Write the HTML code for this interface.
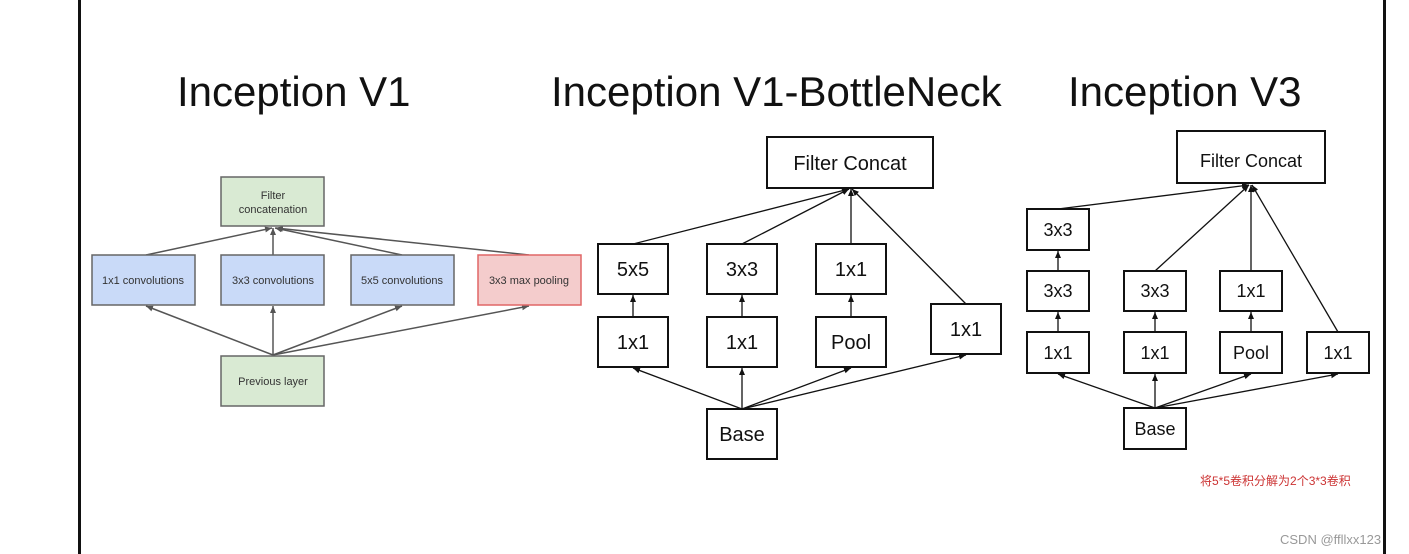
<!DOCTYPE html>
<html><head><meta charset="utf-8"><style>
body{margin:0;width:1409px;height:554px;background:#fff;position:relative;overflow:hidden;font-family:"Liberation Sans",sans-serif}
.t{position:absolute;font-size:42px;color:#111;white-space:nowrap}
svg{position:absolute;left:0;top:0}
</style></head><body>
<div style="position:absolute;left:78px;top:0;width:3px;height:554px;background:#111"></div>
<div style="position:absolute;left:1383px;top:0;width:3px;height:554px;background:#111"></div>
<div class="t" style="left:177px;top:68px">Inception V1</div>
<div class="t" style="left:551px;top:68px">Inception V1-BottleNeck</div>
<div class="t" style="left:1068px;top:68px">Inception V3</div>
<svg width="1409" height="554" font-family="Liberation Sans, sans-serif">
<defs>
<marker id="a" markerWidth="8" markerHeight="8" refX="7" refY="4" orient="auto" markerUnits="userSpaceOnUse"><path d="M0,1 L7,4 L0,7z" fill="#555"/></marker>
<marker id="b" markerWidth="8" markerHeight="8" refX="7" refY="4" orient="auto" markerUnits="userSpaceOnUse"><path d="M0,1 L7,4 L0,7z" fill="#111"/></marker>
</defs>
<g stroke="#555" stroke-width="1.5" fill="none" marker-end="url(#a)">
<line x1="146" y1="255" x2="272" y2="228"/><line x1="273" y1="255" x2="273" y2="228"/>
<line x1="402" y1="255" x2="275" y2="228"/><line x1="529" y1="255" x2="276" y2="228"/>
<line x1="273" y1="355" x2="146" y2="306"/><line x1="273" y1="355" x2="273" y2="306"/>
<line x1="273" y1="355" x2="402" y2="306"/><line x1="273" y1="355" x2="529" y2="306"/>
</g>
<g stroke="#666" stroke-width="1.5">
<rect x="221" y="177" width="103" height="49" fill="#d9ead3"/>
<rect x="92" y="255" width="103" height="50" fill="#c9daf8"/>
<rect x="221" y="255" width="103" height="50" fill="#c9daf8"/>
<rect x="351" y="255" width="103" height="50" fill="#c9daf8"/>
<rect x="478" y="255" width="103" height="50" fill="#f4cccc" stroke="#e06666"/>
<rect x="221" y="356" width="103" height="50" fill="#d9ead3"/>
</g>
<g font-size="11" fill="#333" text-anchor="middle">
<text x="273" y="199">Filter</text><text x="273" y="213">concatenation</text>
<text x="143" y="284">1x1 convolutions</text><text x="273" y="284">3x3 convolutions</text>
<text x="402" y="284">5x5 convolutions</text><text x="529" y="284">3x3 max pooling</text>
<text x="273" y="385">Previous layer</text>
</g>
<g stroke="#111" stroke-width="1.3" fill="none" marker-end="url(#b)">
<line x1="633" y1="244" x2="849" y2="189"/><line x1="742" y1="244" x2="849" y2="189"/>
<line x1="851" y1="244" x2="851" y2="189"/><line x1="966" y1="304" x2="852" y2="189"/>
<line x1="633" y1="317" x2="633" y2="295"/><line x1="742" y1="317" x2="742" y2="295"/><line x1="851" y1="317" x2="851" y2="295"/>
<line x1="742" y1="409" x2="633" y2="368"/><line x1="742" y1="409" x2="742" y2="368"/>
<line x1="742" y1="409" x2="851" y2="368"/><line x1="742" y1="409" x2="966" y2="355"/>
<line x1="1058" y1="209" x2="1249" y2="185"/><line x1="1155" y1="271" x2="1249" y2="185"/>
<line x1="1251" y1="271" x2="1251" y2="185"/><line x1="1338" y1="332" x2="1252" y2="185"/>
<line x1="1058" y1="271" x2="1058" y2="251"/><line x1="1058" y1="332" x2="1058" y2="312"/>
<line x1="1155" y1="332" x2="1155" y2="312"/><line x1="1251" y1="332" x2="1251" y2="312"/>
<line x1="1155" y1="408" x2="1058" y2="374"/><line x1="1155" y1="408" x2="1155" y2="374"/>
<line x1="1155" y1="408" x2="1251" y2="374"/><line x1="1155" y1="408" x2="1338" y2="374"/>
</g>
<g stroke="#111" stroke-width="2" fill="#fff">
<rect x="767" y="137" width="166" height="51"/>
<rect x="598" y="244" width="70" height="50"/><rect x="707" y="244" width="70" height="50"/><rect x="816" y="244" width="70" height="50"/>
<rect x="598" y="317" width="70" height="50"/><rect x="707" y="317" width="70" height="50"/><rect x="816" y="317" width="70" height="50"/>
<rect x="931" y="304" width="70" height="50"/><rect x="707" y="409" width="70" height="50"/>
<rect x="1177" y="131" width="148" height="52"/>
<rect x="1027" y="209" width="62" height="41"/>
<rect x="1027" y="271" width="62" height="40"/><rect x="1124" y="271" width="62" height="40"/><rect x="1220" y="271" width="62" height="40"/>
<rect x="1027" y="332" width="62" height="41"/><rect x="1124" y="332" width="62" height="41"/><rect x="1220" y="332" width="62" height="41"/><rect x="1307" y="332" width="62" height="41"/>
<rect x="1124" y="408" width="62" height="41"/>
</g>
<g font-size="20" fill="#111" text-anchor="middle">
<text x="850" y="170">Filter Concat</text>
<text x="633" y="276">5x5</text><text x="742" y="276">3x3</text><text x="851" y="276">1x1</text>
<text x="633" y="349">1x1</text><text x="742" y="349">1x1</text><text x="851" y="349">Pool</text>
<text x="966" y="336">1x1</text><text x="742" y="441">Base</text>
</g>
<g font-size="18" fill="#111" text-anchor="middle">
<text x="1251" y="167">Filter Concat</text>
<text x="1058" y="236">3x3</text><text x="1058" y="297">3x3</text><text x="1155" y="297">3x3</text><text x="1251" y="297">1x1</text>
<text x="1058" y="359">1x1</text><text x="1155" y="359">1x1</text><text x="1251" y="359">Pool</text><text x="1338" y="359">1x1</text>
<text x="1155" y="435">Base</text>
</g>
<text x="1200" y="485" font-size="12" fill="#c33" font-family="Liberation Sans, Noto Sans CJK SC, sans-serif">将5*5卷积分解为2个3*3卷积</text>
<text x="1280" y="544" font-size="13" fill="#999">CSDN @ffllxx123</text>
</svg>
</body></html>
